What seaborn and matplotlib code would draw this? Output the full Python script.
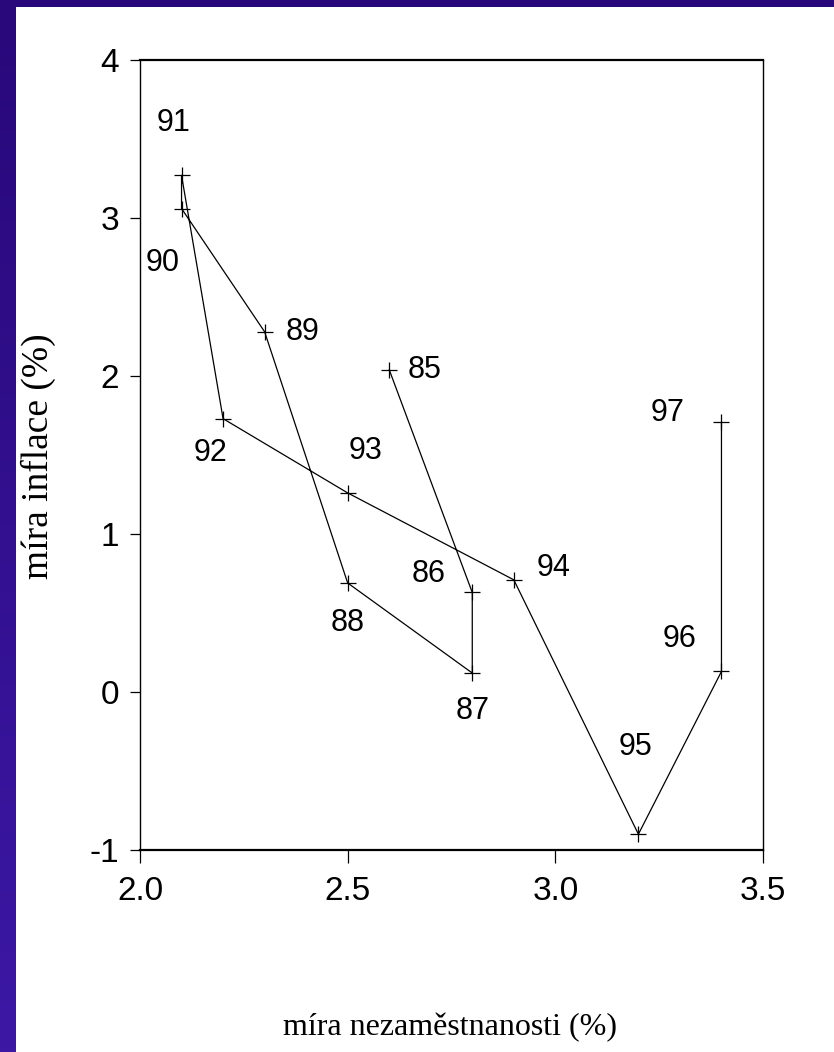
import numpy as np
import pandas as pd
import matplotlib
matplotlib.use("Agg")
import matplotlib.pyplot as plt
import seaborn as sns
from matplotlib.patches import Rectangle
from matplotlib import font_manager

# ---- data ----
years = ["85", "86", "87", "88", "89", "90", "91", "92", "93", "94", "95", "96", "97"]
unemployment = [2.6, 2.8, 2.8, 2.5, 2.3, 2.1, 2.1, 2.2, 2.5, 2.9, 3.2, 3.4, 3.4]
inflation = [2.04, 0.63, 0.12, 0.69, 2.28, 3.06, 3.27, 1.73, 1.26, 0.71, -0.90, 0.13, 1.71]
x_ticks = [2.0, 2.5, 3.0, 3.5]
x_tick_labels = ["2.0", "2.5", "3.0", "3.5"]
y_ticks = [-1, 0, 1, 2, 3, 4]
y_tick_labels = ["-1", "0", "1", "2", "3", "4"]

# label offsets in pixels (dx, dy), dy positive = up
label_offsets = {
    "85": (35, 0), "86": (-44, 18), "87": (0, -38), "88": (0, -40),
    "89": (38, 0), "90": (-19, -54), "91": (-8, 52), "92": (-13, -34),
    "93": (18, 42), "94": (40, 12), "95": (-3, 87), "96": (-42, 32),
    "97": (-54, 9),
}

df = pd.DataFrame({"year": years, "u": unemployment, "i": inflation})

sns.set_theme(style="white")
installed = {f.name for f in font_manager.fontManager.ttflist}
narrow = "Liberation Sans Narrow" if "Liberation Sans Narrow" in installed else "Liberation Sans"
sans = [narrow, "Liberation Sans", "DejaVu Sans"]
plt.rcParams["font.family"] = sans

W, H = 834, 1052
fig = plt.figure(figsize=(W / 100, H / 100), dpi=100)
fig.patch.set_facecolor("white")

# background frame (blue gradient) + white panel
bg = fig.add_axes([0, 0, 1, 1], zorder=-10)
bg.set_axis_off()
top_c = np.array([40, 8, 122]) / 255
bot_c = np.array([60, 24, 165]) / 255
t = np.linspace(0, 1, 256)[:, None]
grad = top_c[None, None, :] * (1 - t[..., None]) + bot_c[None, None, :] * t[..., None]
grad = np.repeat(grad, 4, axis=1)
bg.imshow(grad, aspect="auto", extent=[0, 1, 0, 1], origin="upper")
bg.add_patch(Rectangle((16 / W, 0), 1 - 16 / W, 1 - 7 / H, facecolor="white", edgecolor="none"))
bg.set_xlim(0, 1)
bg.set_ylim(0, 1)

ax = fig.add_axes([140 / W, 1 - 850 / H, (763 - 140) / W, (850 - 60) / H])
ax.set_facecolor("white")

sns.lineplot(data=df, x="u", y="i", sort=False, estimator=None, color="black",
             linewidth=0.9, marker="+", markersize=11, markeredgewidth=0.9,
             markeredgecolor="black", ax=ax)

for yr, xv, yv in zip(years, unemployment, inflation):
    dx, dy = label_offsets[yr]
    ax.annotate(yr, (xv, yv), xytext=(dx, dy), textcoords="offset pixels",
                ha="center", va="center", fontsize=22, color="black", family=sans)

ax.set_xlim(2.0, 3.5)
ax.set_ylim(-1, 4)
ax.set_xticks(x_ticks)
ax.set_xticklabels(x_tick_labels)
ax.set_yticks(y_ticks)
ax.set_yticklabels(y_tick_labels)
ax.tick_params(axis="x", which="both", direction="out", length=9.5, width=0.9,
               labelsize=24, pad=9, colors="black", bottom=True)
ax.tick_params(axis="y", which="both", direction="out", length=7, width=0.9,
               labelsize=24, pad=8, colors="black", left=True)

for side, sp in ax.spines.items():
    sp.set_visible(True)
    sp.set_color("black")
    sp.set_linewidth(1.0 if side in ("left", "right") else 1.6)

ax.set_xlabel("")
ax.set_ylabel("")
serif = ["Liberation Serif", "DejaVu Serif"]
fig.text(450 / W, 1 - 1028 / H, "míra nezaměstnanosti (%)", ha="center", va="center",
         fontsize=23, family=serif, color="black")
fig.text(38 / W, 1 - 456 / H, "míra inflace (%)", ha="center", va="center",
         rotation=90, fontsize=27, family=serif, color="black")

fig.savefig("out.png", dpi=100, facecolor=fig.get_facecolor())
